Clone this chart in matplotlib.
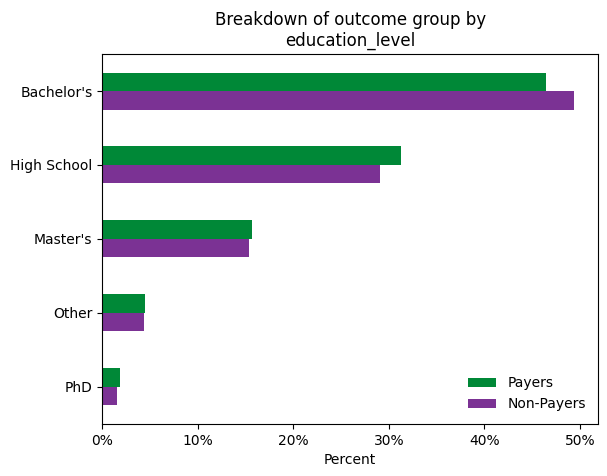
import matplotlib
matplotlib.use("Agg")
import matplotlib.pyplot as plt
import numpy as np
from matplotlib.ticker import PercentFormatter

categories = ["Bachelor's", "High School", "Master's", "Other", "PhD"]
payers = [46.5, 31.25, 15.65, 4.5, 1.85]
non_payers = [49.35, 29.1, 15.35, 4.35, 1.55]

fig = plt.figure(figsize=(6.07, 4.76), dpi=100)
ax = fig.add_axes([0.1685, 0.1095, 0.817, 0.777])

y = np.arange(len(categories))
h = 0.25
ax.barh(y - h/2, payers, height=h, color="#008837", label="Payers")
ax.barh(y + h/2, non_payers, height=h, color="#7b3294", label="Non-Payers")
ax.set_yticks(y)
ax.set_yticklabels(categories)
ax.set_ylim(len(categories) - 0.5, -0.5)
ax.set_xlim(0, max(non_payers) * 1.052)
ax.xaxis.set_major_formatter(PercentFormatter(decimals=0))
ax.set_xlabel("Percent")
ax.set_title("Breakdown of outcome group by\neducation_level")
ax.legend(loc="lower right", frameon=False)

fig.savefig("out.png", dpi=100)
